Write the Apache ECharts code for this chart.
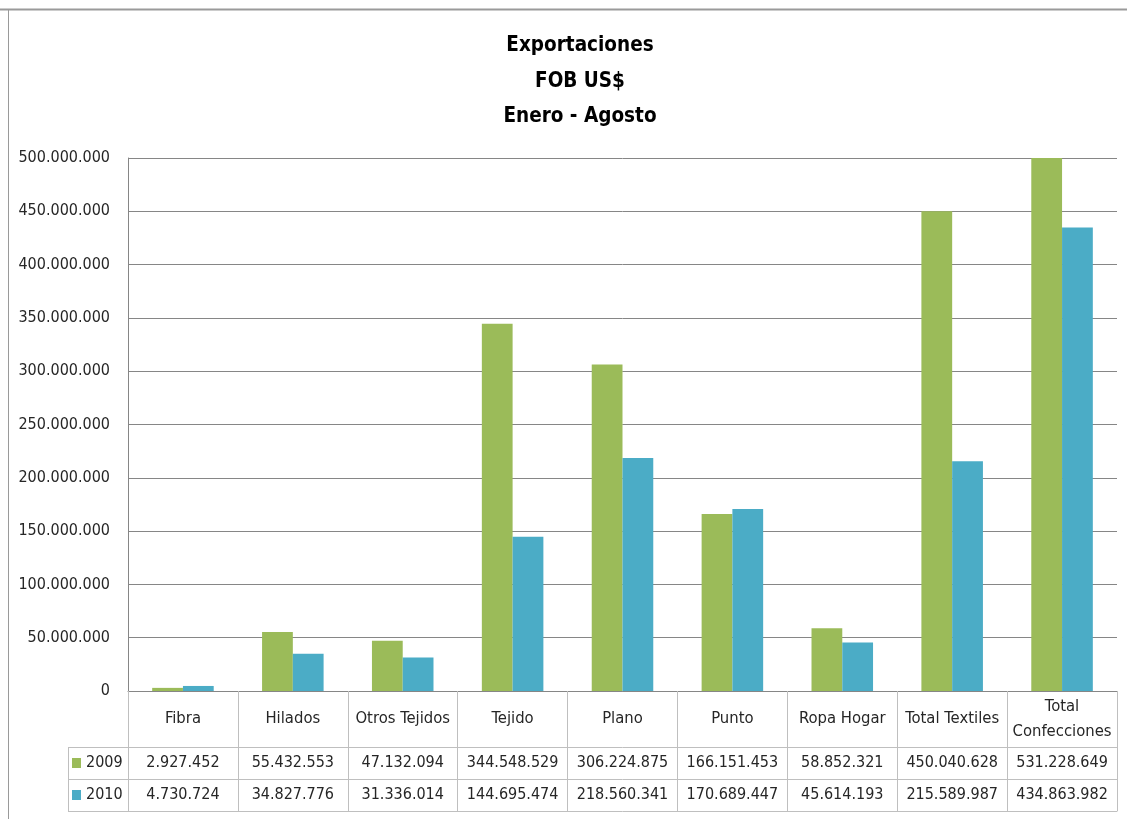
<!DOCTYPE html>
<html>
<head>
<meta charset="utf-8">
<script src="https://cdn.jsdelivr.net/npm/echarts@6/dist/echarts.min.js"></script>
<style>
html,body{margin:0;padding:0;background:#fff;}
#c{width:1127px;height:819px;}
</style>
</head>
<body>
<div id="c"></div>
<script>
const categories = ['Fibra', 'Hilados', 'Otros Tejidos', 'Tejido', 'Plano', 'Punto', 'Ropa Hogar', 'Total Textiles', 'Total Confecciones'];
const values2009 = [2927452, 55432553, 47132094, 344548529, 306224875, 166151453, 58852321, 450040628, 531228649];
const values2010 = [4730724, 34827776, 31336014, 144695474, 218560341, 170689447, 45614193, 215589987, 434863982];
const seriesNames = ['2009', '2010'];
const titleLines = ['Exportaciones', 'FOB US$', 'Enero - Agosto'];
const yMin = 0, yMax = 500000000, yStep = 50000000;

const FONT = '"DejaVu Sans Condensed", "Liberation Sans Narrow", "DejaVu Sans", sans-serif';
const GREEN = '#9BBB59', BLUE = '#4BACC6';
const TXT = '#262626';
const TABLE_LINE = '#BFBFBF';
const GRID_LINE = '#868686';

const G = { left: 128, right: 10, top: 158, bottom: 128 };
const ROW0 = 56, ROW = 32;
const W = 1127, H = 819;
const tableLeft = 68;

function fmt(v) {
  return String(v).replace(/\B(?=(\d{3})+(?!\d))/g, '.');
}

const chart = echarts.init(document.getElementById('c'), null, { renderer: 'canvas' });

const baseY = H - G.bottom;
const plotLeft = G.left;

function tableAxis(offset, vals, tickLen) {
  return {
    type: 'category',
    data: categories,
    position: 'bottom',
    offset: offset,
    boundaryGap: true,
    axisLine: { show: true, lineStyle: { color: TABLE_LINE, width: 1 } },
    axisTick: { show: tickLen > 0, interval: 0, length: tickLen, lineStyle: { color: TABLE_LINE, width: 1 } },
    axisLabel: {
      show: !!vals,
      interval: 0,
      margin: ROW / 2,
      verticalAlign: 'middle',
      color: TXT,
      fontFamily: FONT,
      fontSize: 16,
      formatter: (v, i) => vals ? fmt(vals[i]) : ''
    },
    splitLine: { show: false }
  };
}

const legendText = { color: TXT, fontFamily: FONT, fontSize: 16, lineHeight: 18 };

const option = {
  animation: false,
  backgroundColor: '#fff',
  grid: { left: G.left, right: G.right, top: G.top, bottom: G.bottom, containLabel: false },
  legend: [
    {
      data: [seriesNames[0]], left: tableLeft + 4, top: baseY + ROW0 + ROW / 2 - 9, padding: 0,
      icon: 'rect', itemWidth: 9, itemHeight: 10, itemGap: 0, itemTextGap: 3,
      textStyle: legendText
    },
    {
      data: [seriesNames[1]], left: tableLeft + 4, top: baseY + ROW0 + ROW + ROW / 2 - 9, padding: 0,
      icon: 'rect', itemWidth: 9, itemHeight: 10, itemGap: 0, itemTextGap: 3,
      textStyle: legendText
    }
  ],
  xAxis: [
    {
      type: 'category',
      data: categories,
      position: 'bottom',
      boundaryGap: true,
      axisLine: { show: true, lineStyle: { color: GRID_LINE, width: 1 } },
      axisTick: { show: true, interval: 0, length: ROW0, lineStyle: { color: TABLE_LINE, width: 1 } },
      axisLabel: {
        interval: 0,
        margin: ROW0 / 2,
        verticalAlign: 'middle',
        align: 'center',
        color: TXT,
        fontFamily: FONT,
        fontSize: 16.5,
        lineHeight: 25,
        formatter: v => v === 'Total Confecciones' ? 'Total\nConfecciones' : v
      },
      splitLine: { show: false }
    },
    tableAxis(ROW0, values2009, ROW),
    tableAxis(ROW0 + ROW, values2010, ROW),
    tableAxis(ROW0 + 2 * ROW, null, 0)
  ],
  yAxis: {
    type: 'value',
    min: yMin, max: yMax, interval: yStep,
    axisLine: { show: true, lineStyle: { color: GRID_LINE, width: 1 } },
    axisTick: { show: false },
    axisLabel: {
      margin: 18, color: TXT, fontFamily: FONT, fontSize: 16,
      formatter: v => fmt(v)
    },
    splitLine: { show: true, lineStyle: { color: GRID_LINE, width: 1 } }
  },
  series: [
    {
      name: seriesNames[0], type: 'bar', data: values2009, xAxisIndex: 0,
      barGap: '0%', barCategoryGap: '44%', clip: true,
      itemStyle: { color: GREEN }
    },
    {
      name: seriesNames[1], type: 'bar', data: values2010, xAxisIndex: 0,
      barGap: '0%', barCategoryGap: '44%', clip: true,
      itemStyle: { color: BLUE }
    }
  ],
  graphic: [
    // outer frame
    { type: 'line', shape: { x1: 0, y1: 9.5, x2: W, y2: 9.5 }, style: { stroke: '#9A9A9A', lineWidth: 2 }, silent: true },
    { type: 'line', shape: { x1: 8.5, y1: 9, x2: 8.5, y2: H }, style: { stroke: '#9A9A9A', lineWidth: 1 }, silent: true },
    // legend column of the data table
    { type: 'line', shape: { x1: tableLeft + 0.5, y1: baseY + ROW0, x2: tableLeft + 0.5, y2: baseY + ROW0 + 2 * ROW }, style: { stroke: TABLE_LINE, lineWidth: 1 }, silent: true },
    { type: 'line', shape: { x1: tableLeft, y1: baseY + ROW0 + 0.5, x2: plotLeft, y2: baseY + ROW0 + 0.5 }, style: { stroke: TABLE_LINE, lineWidth: 1 }, silent: true },
    { type: 'line', shape: { x1: tableLeft, y1: baseY + ROW0 + ROW + 0.5, x2: plotLeft, y2: baseY + ROW0 + ROW + 0.5 }, style: { stroke: TABLE_LINE, lineWidth: 1 }, silent: true },
    { type: 'line', shape: { x1: tableLeft, y1: baseY + ROW0 + 2 * ROW + 0.5, x2: plotLeft, y2: baseY + ROW0 + 2 * ROW + 0.5 }, style: { stroke: TABLE_LINE, lineWidth: 1 }, silent: true },
    // title
    {
      type: 'text', x: 580, y: 28,
      style: {
        text: titleLines.join('\n'), fill: '#000', font: 'bold 20.5px ' + FONT,
        align: 'center', verticalAlign: 'top', lineHeight: 35.5
      },
      silent: true
    }
  ]
};

chart.setOption(option);
</script>
</body>
</html>
